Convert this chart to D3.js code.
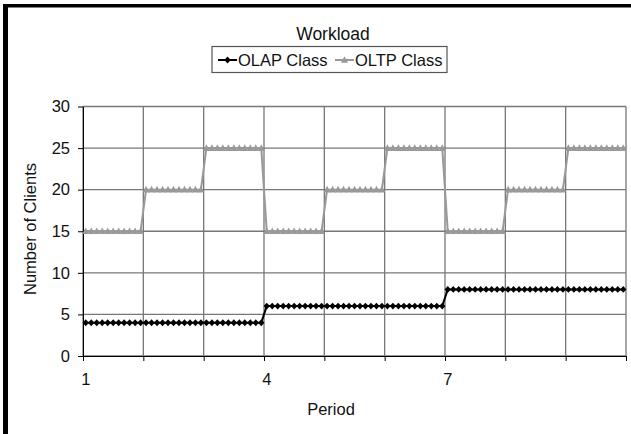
<!DOCTYPE html>
<html>
<head>
<meta charset="utf-8">
<script src="https://cdn.jsdelivr.net/npm/d3@7"></script>
<style>
  body { margin: 0; background: #fff; }
  svg { display: block; font-family: "Liberation Sans", Arial, sans-serif; }
  .axis path, .axis line { stroke: #000; }
</style>
</head>
<body>
<div id="chart"></div>
<script>
// workload per sample, 11 samples per period, 9 periods
var olap = [
  4,4,4,4,4,4,4,4,4,4,4,
  4,4,4,4,4,4,4,4,4,4,4,
  4,4,4,4,4,4,4,4,4,4,4,
  6,6,6,6,6,6,6,6,6,6,6,
  6,6,6,6,6,6,6,6,6,6,6,
  6,6,6,6,6,6,6,6,6,6,6,
  8,8,8,8,8,8,8,8,8,8,8,
  8,8,8,8,8,8,8,8,8,8,8,
  8,8,8,8,8,8,8,8,8,8,8
];
var oltp = [
  15,15,15,15,15,15,15,15,15,15,15,
  20,20,20,20,20,20,20,20,20,20,20,
  25,25,25,25,25,25,25,25,25,25,25,
  15,15,15,15,15,15,15,15,15,15,15,
  20,20,20,20,20,20,20,20,20,20,20,
  25,25,25,25,25,25,25,25,25,25,25,
  15,15,15,15,15,15,15,15,15,15,15,
  20,20,20,20,20,20,20,20,20,20,20,
  25,25,25,25,25,25,25,25,25,25,25
];
var seriesNames = ["OLAP Class", "OLTP Class"];
var samplesPerPeriod = 11;
var xLabels = ["1", "4", "7"];
var yTicks = [0, 5, 10, 15, 20, 25, 30];

var W = 631, H = 434;
var margin = {left: 83, right: 626, top: 106.5, bottom: 356};
var fontSize = 16.5;

var svg = d3.select("#chart").append("svg")
  .attr("width", W)
  .attr("height", H);

svg.append("rect").attr("width", W).attr("height", H).attr("fill", "#fff");

// black frame of the screenshot (top and left only)
svg.append("rect").attr("x", 3).attr("y", 4).attr("width", W - 3).attr("height", 3.5).attr("fill", "#000");
svg.append("rect").attr("x", 3).attr("y", 4).attr("width", 5).attr("height", H - 4).attr("fill", "#000");

var n = olap.length;
var xScale = d3.scaleBand().domain(d3.range(n)).range([margin.left, margin.right]);
var xEdge = d3.scaleLinear().domain([0, n]).range([margin.left, margin.right]);
var yScale = d3.scaleLinear().domain([0, 30]).range([margin.bottom, margin.top]);
var xc = function(i) { return xScale(i) + xScale.bandwidth() / 2; };

// gridlines
var periodEdges = d3.range(0, n + 1, samplesPerPeriod);
svg.append("g").selectAll("line")
  .data(yTicks)
  .enter().append("line")
  .attr("x1", margin.left).attr("x2", margin.right)
  .attr("y1", function(d) { return yScale(d); })
  .attr("y2", function(d) { return yScale(d); })
  .attr("stroke", "#777").attr("stroke-width", 1.3);
svg.append("g").selectAll("line")
  .data(periodEdges)
  .enter().append("line")
  .attr("x1", function(d) { return xEdge(d); })
  .attr("x2", function(d) { return xEdge(d); })
  .attr("y1", margin.top).attr("y2", margin.bottom)
  .attr("stroke", "#777").attr("stroke-width", 1.3);

// axes
svg.append("g")
  .attr("class", "axis")
  .attr("transform", "translate(" + margin.left + ",0)")
  .call(d3.axisLeft(yScale).tickValues(yTicks).tickSize(5).tickSizeOuter(0).tickPadding(8))
  .call(function(g) {
    g.attr("font-size", fontSize).attr("font-family", null);
    g.selectAll("text").attr("fill", "#111");
  });

svg.append("g")
  .attr("class", "axis")
  .attr("transform", "translate(0," + margin.bottom + ")")
  .call(d3.axisBottom(xEdge).tickValues(periodEdges).tickSize(5).tickSizeOuter(0).tickFormat(""));

svg.append("g").selectAll("text")
  .data(xLabels)
  .enter().append("text")
  .attr("x", function(d) { return xc((+d - 1) * samplesPerPeriod); })
  .attr("y", 385)
  .attr("text-anchor", "middle")
  .attr("font-size", fontSize)
  .attr("fill", "#111")
  .text(function(d) { return d; });

// axis titles
svg.append("text")
  .attr("x", 331).attr("y", 415)
  .attr("text-anchor", "middle")
  .attr("font-size", fontSize)
  .attr("fill", "#111")
  .text("Period");

svg.append("text")
  .attr("transform", "translate(36,229) rotate(-90)")
  .attr("text-anchor", "middle")
  .attr("font-size", fontSize)
  .attr("fill", "#111")
  .text("Number of Clients");

svg.append("text")
  .attr("x", 333).attr("y", 40)
  .attr("text-anchor", "middle")
  .attr("font-size", 17.5)
  .attr("fill", "#111")
  .text("Workload");

// series
var line = d3.line()
  .x(function(d, i) { return xc(i); })
  .y(function(d) { return yScale(d); });

var diamond = "M0,-3.4L3.2,0L0,3.4L-3.2,0Z";
var triangle = "M0,-3.8L3.5,2.8L-3.5,2.8Z";

svg.append("path")
  .datum(oltp)
  .attr("d", line)
  .attr("fill", "none")
  .attr("stroke", "#999")
  .attr("stroke-width", 2);
svg.append("g").selectAll("path")
  .data(oltp)
  .enter().append("path")
  .attr("d", triangle)
  .attr("transform", function(d, i) { return "translate(" + xc(i) + "," + yScale(d) + ")"; })
  .attr("fill", "#999");

svg.append("path")
  .datum(olap)
  .attr("d", line)
  .attr("fill", "none")
  .attr("stroke", "#000")
  .attr("stroke-width", 2);
svg.append("g").selectAll("path")
  .data(olap)
  .enter().append("path")
  .attr("d", diamond)
  .attr("transform", function(d, i) { return "translate(" + xc(i) + "," + yScale(d) + ")"; })
  .attr("fill", "#000");

// legend
var legend = svg.append("g");
legend.append("rect")
  .attr("x", 212).attr("y", 46.5)
  .attr("width", 235).attr("height", 26)
  .attr("fill", "#fff").attr("stroke", "#555").attr("stroke-width", 1.2);

var legendItems = [
  { name: seriesNames[0], color: "#000", shape: diamond, x: 218 },
  { name: seriesNames[1], color: "#999", shape: triangle, x: 335 }
];
var item = legend.selectAll("g")
  .data(legendItems)
  .enter().append("g")
  .attr("transform", function(d) { return "translate(" + d.x + ",60)"; });
item.append("line")
  .attr("x1", 0).attr("x2", 19)
  .attr("stroke", function(d) { return d.color; })
  .attr("stroke-width", 2);
item.append("path")
  .attr("d", function(d) { return d.shape; })
  .attr("transform", "translate(9.5,0)")
  .attr("fill", function(d) { return d.color; });
item.append("text")
  .attr("x", 20).attr("y", 6)
  .attr("font-size", fontSize)
  .attr("fill", "#111")
  .text(function(d) { return d.name; });
</script>
</body>
</html>
